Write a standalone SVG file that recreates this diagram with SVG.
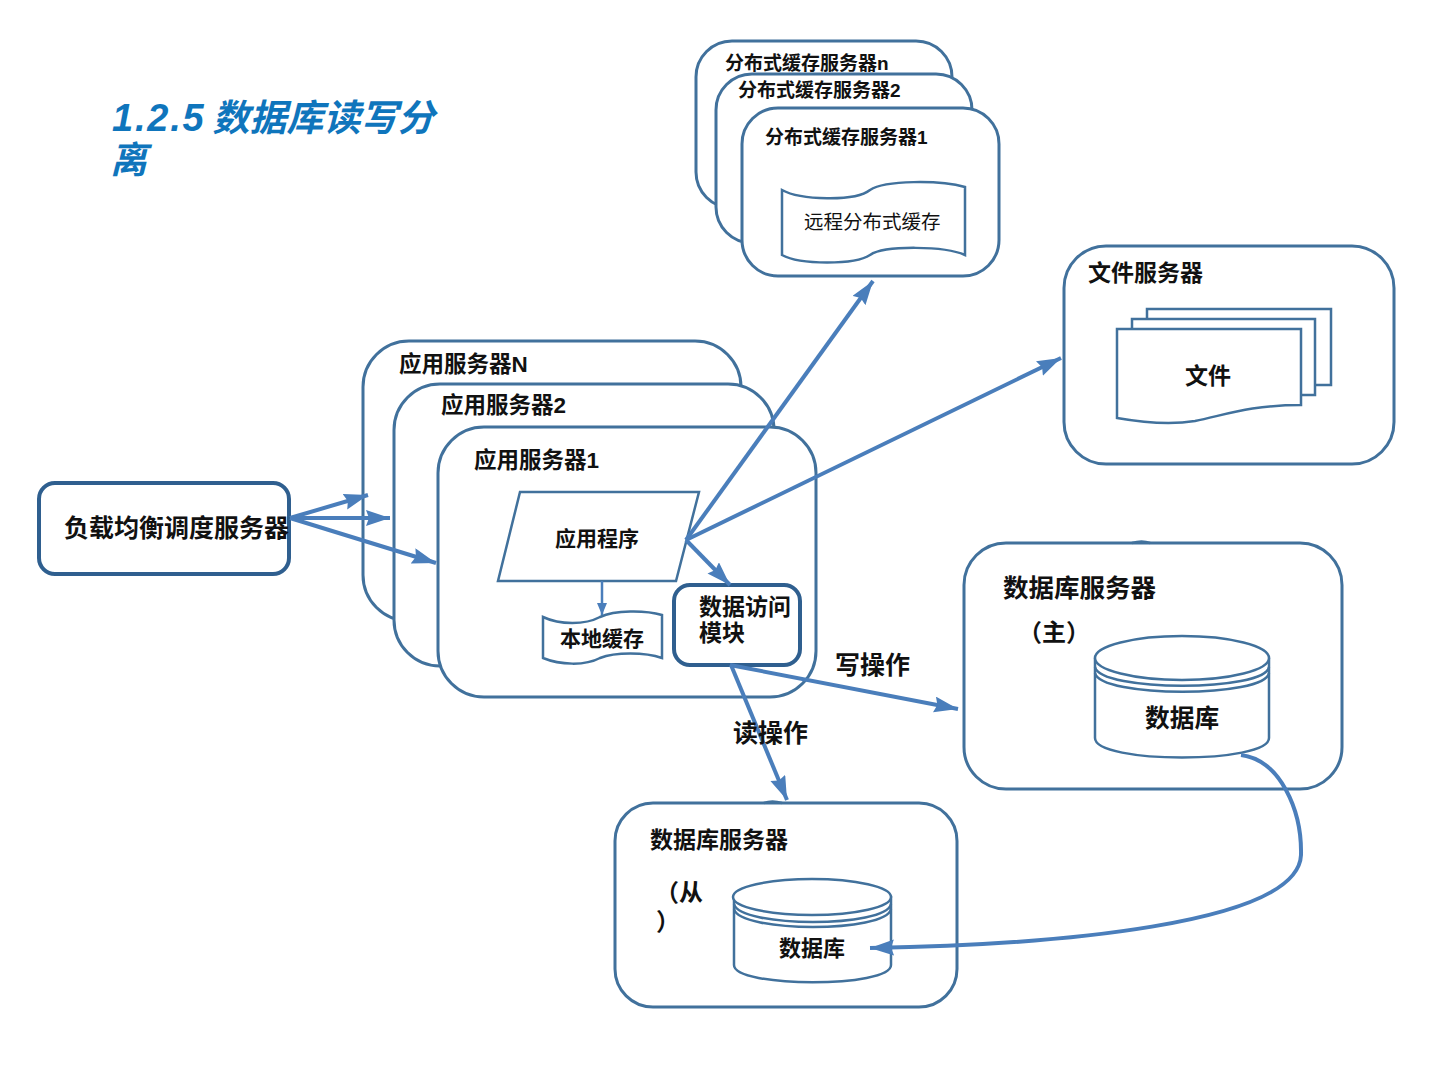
<svg xmlns="http://www.w3.org/2000/svg" width="1440" height="1080" viewBox="0 0 1440 1080">
<style>
text{font-family:"Liberation Sans","Noto Sans CJK SC",sans-serif;fill:#111;font-weight:700}
.b{fill:#fff;stroke:#41719c;stroke-width:3}
.t{fill:#fff;stroke:#41719c;stroke-width:2.5}
.c{fill:none;stroke:#4a7ebb;stroke-width:4}
.s{fill:none;stroke:#41719c;stroke-width:2.5}
</style>
<defs>
<marker id="a" markerUnits="userSpaceOnUse" markerWidth="26" markerHeight="18" refX="24" refY="8" orient="auto"><path d="M0 0L24 8L0 16L3 8Z" fill="#4a7ebb"/></marker>
<marker id="m" markerUnits="userSpaceOnUse" markerWidth="14" markerHeight="12" refX="12" refY="5" orient="auto"><path d="M0 0L12 5L0 10Z" fill="#4a7ebb"/></marker>
</defs>
<rect width="1440" height="1080" fill="#fff"/>
<text x="112" y="131" font-size="37" font-style="italic" style="fill:#0f75bc"><tspan font-size="38" letter-spacing="1.800">1.2.5</tspan><tspan dx="7">数据库读写分</tspan></text>
<text x="110" y="173" font-size="37" font-style="italic" style="fill:#0f75bc">离</text>

<g id="cache-n"><rect class="b" x="696" y="41" width="256" height="167" rx="36"/><text x="725" y="70" font-size="19">分布式缓存服务器n</text></g>
<g id="cache-2"><rect class="b" x="716" y="74" width="256" height="169" rx="36"/><text x="738" y="97" font-size="19">分布式缓存服务器2</text></g>
<g id="cache-1"><rect class="b" x="742" y="108" width="257" height="168" rx="36"/><text x="765" y="144" font-size="19">分布式缓存服务器1</text>
<path class="t" d="M782 190C800 200 855 202 870 190C885 180 940 180 965 187V255C945 246 885 245 870 255C855 265 800 265 782 255Z"/>
<text x="804" y="229" font-size="19.500" style="font-family:'Liberation Serif','Noto Sans CJK SC',serif;font-weight:400">远程分布式缓存</text></g>

<g id="file-server"><rect class="b" x="1064" y="246" width="330" height="218" rx="42"/><text x="1088" y="281" font-size="23">文件服务器</text>
<path class="t" d="M1147 309H1331V385H1147Z"/><path class="t" d="M1132 319H1315V395H1132Z"/>
<path class="t" d="M1117 329H1301V405C1250 405 1225 415 1195 421C1170 425 1140 422 1117 418Z"/>
<text x="1185" y="384" font-size="23">文件</text></g>

<g id="app-n"><rect class="b" x="363" y="341" width="378" height="280" rx="46"/><text x="399" y="372" font-size="22.500">应用服务器N</text></g>
<g id="app-2"><rect class="b" x="394" y="384" width="380" height="282" rx="46"/><text x="441" y="413" font-size="22.500">应用服务器2</text></g>
<g id="app-1"><rect class="b" x="438" y="427" width="378" height="270" rx="46"/><text x="474" y="468" font-size="22.500">应用服务器1</text></g>
<g id="app-program"><path class="t" d="M520 492H699L676 581H498Z"/><text x="555" y="546" font-size="21">应用程序</text></g>
<g id="local-cache"><path class="t" d="M543 617C560 625 585 625 600 617C615 610 645 610 662 615V658C645 652 615 652 600 658C585 666 560 665 543 658Z"/><text x="560" y="646" font-size="21">本地缓存</text></g>
<g id="dao"><rect x="674" y="585" width="126" height="80" rx="16" fill="#fff" stroke="#2f5f8f" stroke-width="4"/><text x="699" y="615" font-size="23">数据访问</text><text x="699" y="641" font-size="23">模块</text></g>

<g id="lb"><rect x="39" y="483" width="250" height="91" rx="16" fill="#fff" stroke="#2f5f8f" stroke-width="4"/><text x="64" y="537" font-size="25">负载均衡调度服务器</text></g>

<g id="db-master"><rect class="b" x="964" y="543" width="378" height="246" rx="42"/><path class="s" d="M1132 543Q1142 540 1150 543"/><text x="1003" y="597" font-size="25.500">数据库服务器</text><text x="1018" y="641" font-size="24">（主）</text>
<path class="t" d="M1095 659V738C1095 764 1269 764 1269 738V659Z"/>
<path class="s" d="M1095 667C1100 692 1265 692 1269 667M1095 673C1100 698 1265 698 1269 673"/>
<ellipse class="t" cx="1182" cy="658" rx="87" ry="22"/>
<text x="1145" y="727" font-size="24.700">数据库</text></g>

<g id="db-slave"><rect class="b" x="615" y="803" width="342" height="204" rx="38"/><path class="s" d="M764 803Q772 800 782 803"/><text x="650" y="848" font-size="23">数据库服务器</text><text x="655" y="901" font-size="24">（从</text><text x="656" y="930" font-size="24">）</text>
<path class="t" d="M734 897V965C734 988 891 988 891 965V897Z"/>
<path class="s" d="M734 904C740 928 886 928 891 904M734 909C740 933 886 933 891 909"/>
<ellipse class="t" cx="812" cy="897" rx="79" ry="18"/>
<text x="779" y="956" font-size="22">数据库</text></g>

<g id="connectors">
<path class="c" d="M290 518L368 495" marker-end="url(#a)"/>
<path class="c" d="M290 518L390 518" marker-end="url(#a)"/>
<path class="c" d="M290 518L436 563" marker-end="url(#a)"/>
<path class="c" d="M686 540L873 281" marker-end="url(#a)"/>
<path class="c" d="M686 540L1061 358" marker-end="url(#a)"/>
<path class="c" d="M686 540L730 585" marker-end="url(#a)"/>
<path d="M602 581V615" fill="none" stroke="#4a7ebb" stroke-width="2.500" marker-end="url(#m)"/>
<path class="c" d="M730 665L958 709" marker-end="url(#a)"/>
<path class="c" d="M731 665L787 800" marker-end="url(#a)"/>
<path class="c" d="M1241 755C1280 760 1302 810 1301 855C1298 925 1050 945 870 948" marker-end="url(#a)"/>
</g>
<text id="write-label" x="835" y="674" font-size="25">写操作</text>
<text id="read-label" x="733" y="742" font-size="25">读操作</text>
</svg>
